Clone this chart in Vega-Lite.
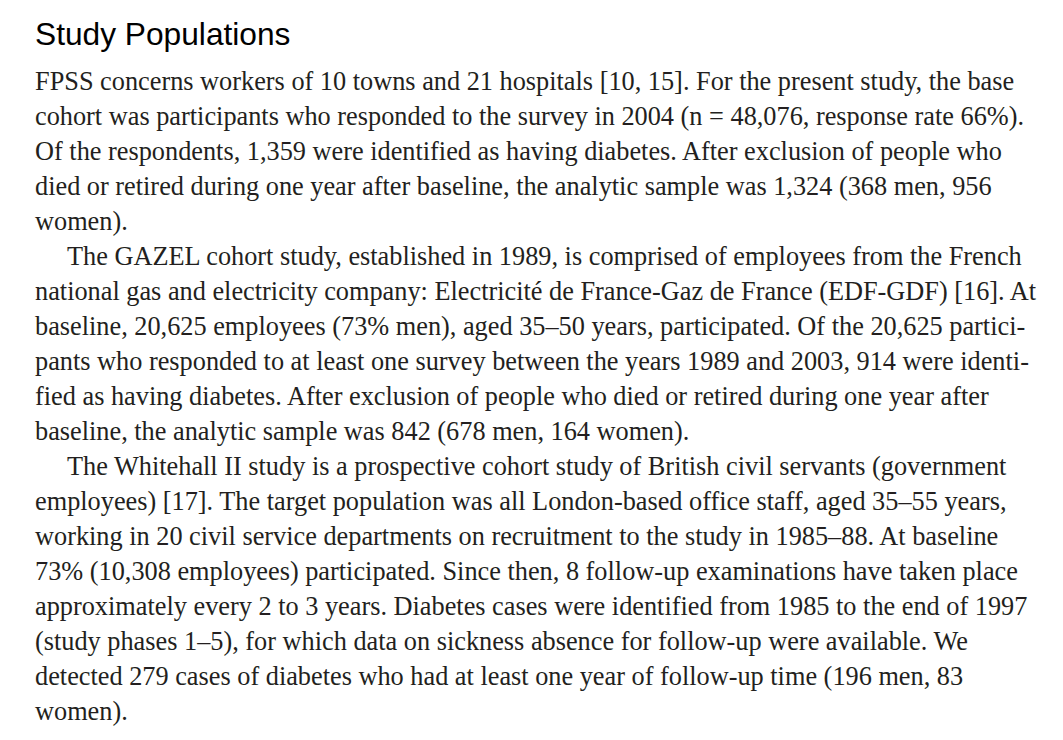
{
  "$schema": "https://vega.github.io/schema/vega-lite/v6.json",
  "width": 1028,
  "height": 740,
  "padding": {"left": 35, "top": 0, "right": 0, "bottom": 0},
  "autosize": {"type": "none"},
  "background": "white",
  "config": {"view": {"stroke": null}},
  "data": {
    "values": [
      {"line": 0, "kind": "title", "text": "Study Populations"},
      {"line": 1, "kind": "body", "text": "FPSS concerns workers of 10 towns and 21 hospitals [10, 15]. For the present study, the base"},
      {"line": 2, "kind": "body", "text": "cohort was participants who responded to the survey in 2004 (n = 48,076, response rate 66%)."},
      {"line": 3, "kind": "body", "text": "Of the respondents, 1,359 were identified as having diabetes. After exclusion of people who"},
      {"line": 4, "kind": "body", "text": "died or retired during one year after baseline, the analytic sample was 1,324 (368 men, 956"},
      {"line": 5, "kind": "body", "text": "women)."},
      {"line": 6, "kind": "indent", "text": "The GAZEL cohort study, established in 1989, is comprised of employees from the French"},
      {"line": 7, "kind": "body", "text": "national gas and electricity company: Electricité de France-Gaz de France (EDF-GDF) [16]. At"},
      {"line": 8, "kind": "body", "text": "baseline, 20,625 employees (73% men), aged 35–50 years, participated. Of the 20,625 partici-"},
      {"line": 9, "kind": "body", "text": "pants who responded to at least one survey between the years 1989 and 2003, 914 were identi-"},
      {"line": 10, "kind": "body", "text": "fied as having diabetes. After exclusion of people who died or retired during one year after"},
      {"line": 11, "kind": "body", "text": "baseline, the analytic sample was 842 (678 men, 164 women)."},
      {"line": 12, "kind": "indent", "text": "The Whitehall II study is a prospective cohort study of British civil servants (government"},
      {"line": 13, "kind": "body", "text": "employees) [17]. The target population was all London-based office staff, aged 35–55 years,"},
      {"line": 14, "kind": "body", "text": "working in 20 civil service departments on recruitment to the study in 1985–88. At baseline"},
      {"line": 15, "kind": "body", "text": "73% (10,308 employees) participated. Since then, 8 follow-up examinations have taken place"},
      {"line": 16, "kind": "body", "text": "approximately every 2 to 3 years. Diabetes cases were identified from 1985 to the end of 1997"},
      {"line": 17, "kind": "body", "text": "(study phases 1–5), for which data on sickness absence for follow-up were available. We"},
      {"line": 18, "kind": "body", "text": "detected 279 cases of diabetes who had at least one year of follow-up time (196 men, 83"},
      {"line": 19, "kind": "body", "text": "women)."}
    ]
  },
  "encoding": {
    "x": {"value": 0},
    "y": {
      "field": "line",
      "type": "quantitative",
      "scale": {"domain": [-1.5714, 19.5714], "reverse": true, "nice": false, "zero": false},
      "axis": null
    },
    "text": {"field": "text", "type": "nominal"}
  },
  "layer": [
    {
      "transform": [{"filter": "datum.kind == 'title'"}],
      "mark": {"type": "text", "align": "left", "baseline": "alphabetic", "font": "Liberation Sans", "fontSize": 31.7, "dy": -10, "color": "#000000"}
    },
    {
      "transform": [{"filter": "datum.kind == 'body'"}],
      "mark": {"type": "text", "align": "left", "baseline": "alphabetic", "font": "Liberation Serif", "fontSize": 26.3, "color": "#231f20"}
    },
    {
      "transform": [{"filter": "datum.kind == 'indent'"}],
      "mark": {"type": "text", "align": "left", "baseline": "alphabetic", "font": "Liberation Serif", "fontSize": 26.3, "dx": 32, "color": "#231f20"}
    }
  ]
}
